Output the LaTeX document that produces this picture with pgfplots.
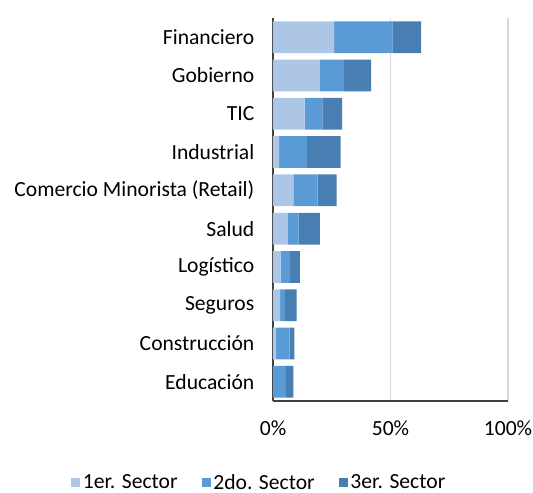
\documentclass[border=0pt]{standalone}
\usepackage{fontspec}
\setmainfont{Carlito}
\usepackage{pgfplots}
\pgfplotsset{compat=1.18}
\definecolor{sOne}{RGB}{174,198,230}
\definecolor{sTwo}{RGB}{91,155,213}
\definecolor{sThree}{RGB}{72,126,177}
\definecolor{gridgray}{RGB}{217,217,217}
\definecolor{axisgray}{RGB}{64,64,64}

\begin{document}
\begin{tikzpicture}
\useasboundingbox (-204.75pt,-69pt) rectangle (195pt,300.75pt);
\begin{axis}[
  at={(0,0)}, anchor=south west,
  scale only axis, width=176.25pt, height=287.25pt,
  xbar stacked, bar width=0.83,
  font=\fontsize{16.2}{19}\selectfont,
  /pgf/number format/assume math mode=true,
  xmin=0, xmax=100, xtick={0,50,100},
  xticklabel={\pgfmathprintnumber{\tick}\%},
  ymin=-0.5, ymax=9.5, y dir=reverse,
  ytick={0,...,9},
  yticklabels={Financiero,Gobierno,TIC,Industrial,Comercio Minorista (Retail),Salud,Logístico,Seguros,Construcción,Educación},
  major tick length=0pt,
  axis x line*=bottom, axis y line*=left,
  axis line style={axisgray, line width=1pt, -},
  xmajorgrids, major grid style={gridgray, line width=1.1pt},
  yticklabel style={xshift=-10.5pt},
  xticklabel style={yshift=-11pt},
  legend columns=3,
  legend style={draw=none, fill=none, at={(-0.0573,-0.213)}, anchor=center,
    /tikz/every even column/.append style={column sep=16pt}},
  legend image code/.code={\fill[#1] (0pt,-3.4pt) rectangle (6.8pt,3.4pt);},
]
\addplot[fill=sOne, draw=none] coordinates {(26,0) (20,1) (13.5,2) (2.6,3) (8.7,4) (6.3,5) (3.3,6) (3.0,7) (1.1,8) (0,9)};
\addplot[fill=sTwo, draw=none] coordinates {(24.8,0) (10.3,1) (7.5,2) (11.8,3) (10.3,4) (4.6,5) (3.9,6) (2.1,7) (6.0,8) (5.5,9)};
\addplot[fill=sThree, draw=none] coordinates {(12.2,0) (11.5,1) (8.4,2) (14.4,3) (8.1,4) (9.1,5) (4.2,6) (5.0,7) (2.0,8) (3.2,9)};
\legend{1er. Sector,2do. Sector,3er. Sector}
\end{axis}
\end{tikzpicture}
\end{document}
